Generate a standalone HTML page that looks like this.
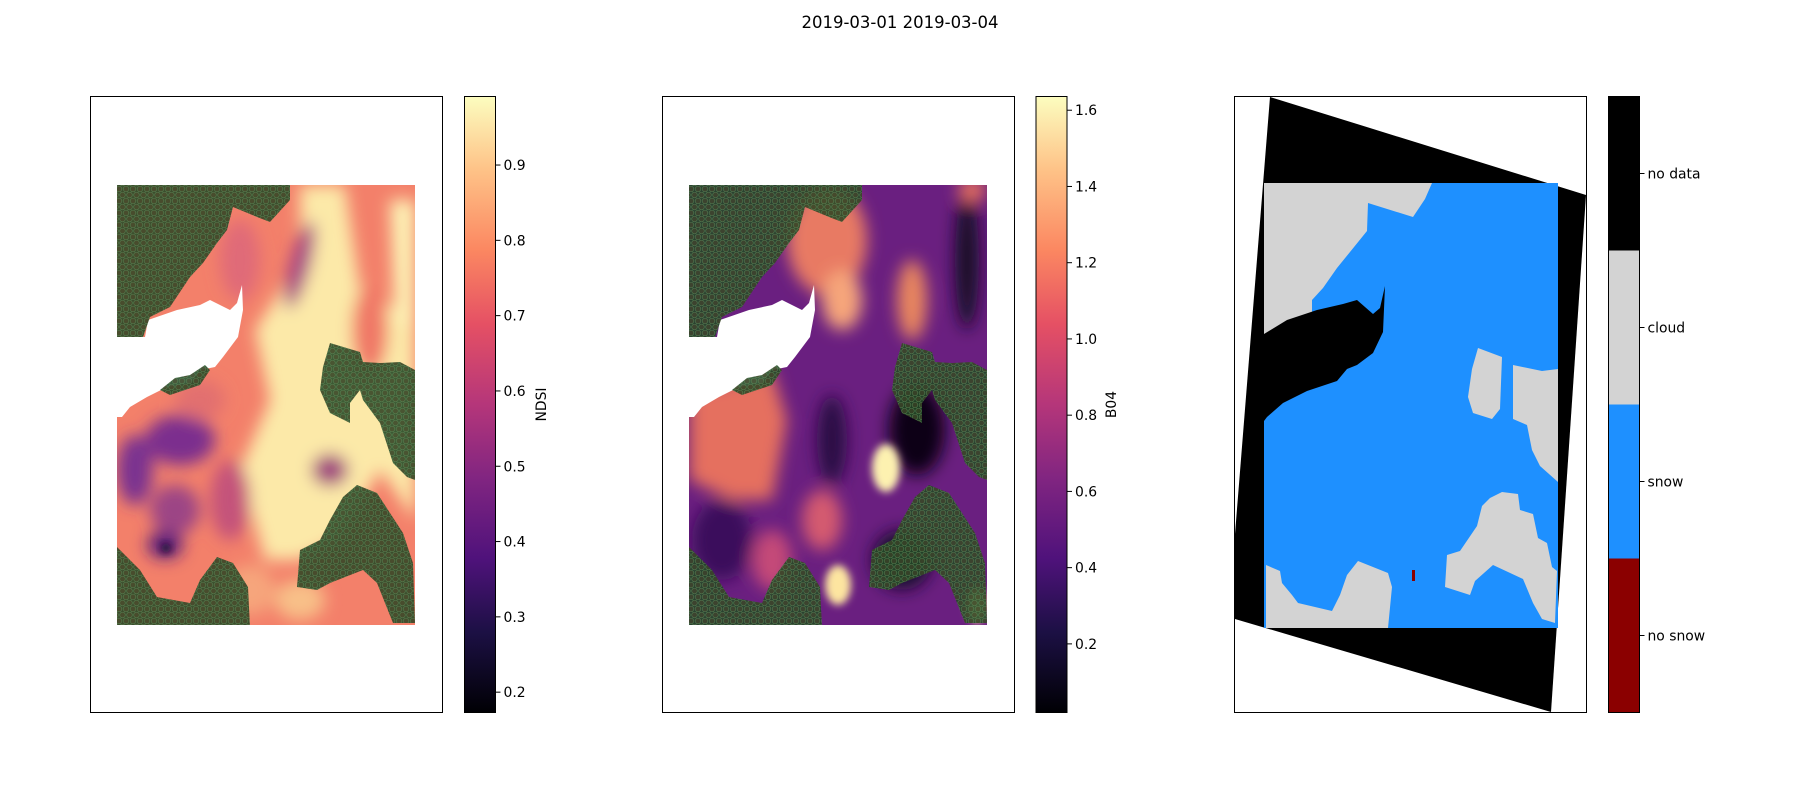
<!DOCTYPE html>
<html><head><meta charset="utf-8"><style>
html,body{margin:0;padding:0;background:#fff;width:1800px;height:800px;overflow:hidden;font-family:"DejaVu Sans","Liberation Sans",sans-serif}
svg text{font-family:"DejaVu Sans","Liberation Sans",sans-serif}
</style></head><body>
<svg id="fig" width="1800" height="800" viewBox="0 0 1800 800" xmlns="http://www.w3.org/2000/svg">
<defs>
<linearGradient id="magma" x1="0" y1="1" x2="0" y2="0">
<stop offset="0" stop-color="#000004"/><stop offset="0.13" stop-color="#1c1044"/><stop offset="0.25" stop-color="#4f127b"/><stop offset="0.38" stop-color="#812581"/><stop offset="0.5" stop-color="#b5367a"/><stop offset="0.63" stop-color="#e55064"/><stop offset="0.75" stop-color="#fb8761"/><stop offset="0.88" stop-color="#fec287"/><stop offset="1" stop-color="#fcfdbf"/>
</linearGradient>
<filter id="blur8" x="-50%" y="-50%" width="200%" height="200%"><feGaussianBlur stdDeviation="8"/></filter>
<filter id="blur4" x="-50%" y="-50%" width="200%" height="200%"><feGaussianBlur stdDeviation="4"/></filter>
<pattern id="hex" patternUnits="userSpaceOnUse" width="7" height="12">
<rect width="7" height="12" fill="rgba(34,70,36,0.88)"/>
<circle cx="3.5" cy="3" r="2.8" fill="rgba(110,70,45,0.25)" stroke="rgba(95,150,95,0.6)" stroke-width="0.7"/>
<circle cx="0" cy="9" r="2.8" fill="rgba(110,70,45,0.25)" stroke="rgba(95,150,95,0.6)" stroke-width="0.7"/>
<circle cx="7" cy="9" r="2.8" fill="rgba(110,70,45,0.25)" stroke="rgba(95,150,95,0.6)" stroke-width="0.7"/>
</pattern>
<clipPath id="dataclip"><rect x="117" y="185" width="298" height="440"/></clipPath>
<g id="hole"><polygon fill="#fff" points="117,337 145,337 148,320 177,310 200,305 210,300 230,310 237,303 242,285 243,310 238,337 223,357 215,367 200,370 190,383 167,387 147,397 130,407 122,417 117,417 116,337"/></g>
<g id="greens" fill="url(#hex)">
<polygon points="117,178 290,178 290,200 270,222 257,217 233,207 227,230 217,243 203,263 190,277 170,307 150,317 143,337 117,337"/>
<polygon points="330,343 360,352 363,362 380,363 400,362 415,370 415,480 407,477 393,463 380,423 363,400 360,390 350,403 350,423 330,413 320,390 323,367"/>
<polygon points="357,485 377,493 390,513 403,533 413,563 415,623 393,623 377,583 363,570 330,583 317,590 297,587 300,550 320,540 330,520 343,497"/>
<polygon points="117,547 140,570 157,597 190,603 200,580 217,557 233,563 248,587 250,627 117,627"/>
<polygon points="160,390 175,378 190,375 205,365 210,370 200,385 185,390 170,395"/>
</g>
</defs>

<text x="900" y="28" font-size="16.5" text-anchor="middle" fill="#000">2019-03-01 2019-03-04</text>

<!-- Panel 1: NDSI -->
<g>
<rect x="90.5" y="96.5" width="352" height="616" fill="#fff" stroke="#000" stroke-width="1"/>
<g clip-path="url(#dataclip)">
<rect x="117" y="185" width="298" height="440" fill="#f3806a"/>
<g filter="url(#blur8)">
<polygon points="300,185 345,185 360,290 415,320 415,520 380,470 340,540 300,560 265,560 240,470 270,400 255,330 300,260" fill="#fce9a8"/>
<polygon points="390,200 415,200 415,330 395,320" fill="#fdf3b5"/>
<ellipse cx="370" cy="330" rx="18" ry="45" fill="#f07866"/>
<ellipse cx="300" cy="265" rx="10" ry="45" fill="#a54585" transform="rotate(15 300 265)"/>
<ellipse cx="240" cy="260" rx="20" ry="40" fill="#e06a78"/>
<ellipse cx="180" cy="440" rx="35" ry="25" fill="#7b2f8e"/>
<ellipse cx="135" cy="470" rx="18" ry="35" fill="#7a3090"/>
<ellipse cx="175" cy="510" rx="25" ry="25" fill="#9c4485"/>
<ellipse cx="165" cy="545" rx="18" ry="14" fill="#5a1d7a"/>
<ellipse cx="230" cy="500" rx="20" ry="40" fill="#c4527a"/>
<ellipse cx="250" cy="590" rx="25" ry="25" fill="#f6a57c"/>
<ellipse cx="330" cy="470" rx="18" ry="16" fill="#a0457f"/>
<ellipse cx="300" cy="600" rx="25" ry="20" fill="#f8c088"/>
<ellipse cx="200" cy="400" rx="25" ry="20" fill="#e27070"/>
</g>
<ellipse cx="166" cy="548" rx="5" ry="5" fill="#1a0830" filter="url(#blur4)"/>
<use href="#hole"/>
<use href="#greens"/>
</g>
</g>

<!-- Panel 2: B04 -->
<g>
<rect x="662.5" y="96.5" width="352" height="616" fill="#fff" stroke="#000" stroke-width="1"/>
<g transform="translate(572,0)">
<g clip-path="url(#dataclip)">
<rect x="117" y="185" width="298" height="440" fill="#6a1f80"/>
<g filter="url(#blur8)">
<polygon points="117,390 200,370 215,420 200,500 160,500 117,480" fill="#e5705e"/>
<ellipse cx="150" cy="540" rx="30" ry="40" fill="#3a0f5c"/>
<ellipse cx="200" cy="560" rx="20" ry="30" fill="#c44a78"/>
<ellipse cx="255" cy="240" rx="40" ry="55" fill="#e87a64"/>
<ellipse cx="270" cy="300" rx="20" ry="30" fill="#f6a57a"/>
<ellipse cx="345" cy="430" rx="28" ry="45" fill="#0c0418"/>
<ellipse cx="395" cy="260" rx="12" ry="70" fill="#150828"/>
<ellipse cx="340" cy="300" rx="15" ry="40" fill="#e9865f"/>
<ellipse cx="260" cy="440" rx="15" ry="45" fill="#2a0c45"/>
<ellipse cx="250" cy="520" rx="20" ry="30" fill="#d45a70"/>
<ellipse cx="330" cy="560" rx="30" ry="30" fill="#1e0a33"/>
<ellipse cx="400" cy="190" rx="14" ry="12" fill="#e5705e"/>
</g>
<ellipse cx="314" cy="468" rx="14" ry="24" fill="#fdf1b0" filter="url(#blur4)"/>
<ellipse cx="266" cy="585" rx="13" ry="20" fill="#fde5a0" filter="url(#blur4)"/>
<ellipse cx="405" cy="605" rx="10" ry="18" fill="#fde5a0" filter="url(#blur4)"/>
<use href="#hole"/>
<use href="#greens"/>
</g>
</g>
</g>

<!-- Panel 3: classification -->
<g>
<rect x="1234.5" y="96.5" width="352" height="616" fill="#fff" stroke="#000" stroke-width="1"/>
<polygon points="1270,97 1586,195 1551,712 1235,619 1235,534" fill="#000"/>
<rect x="1264" y="183" width="294" height="445" fill="#1e90ff"/>
<g fill="#d3d3d3">
<polygon points="1264,183 1432,183 1425,199 1413,217 1368,203 1367,231 1350,252 1337,268 1323,288 1312,300 1312,316 1290,320 1287,332 1278,338 1264,334"/>
<polygon points="1478,348 1502,357 1500,409 1492,419 1473,413 1468,397 1472,369"/>
<polygon points="1513,365 1542,371 1558,369 1558,482 1540,466 1532,450 1527,425 1513,419"/>
<polygon points="1482,506 1490,498 1502,492 1518,494 1520,510 1533,514 1538,538 1547,543 1552,567 1557,571 1555,623 1542,619 1533,603 1523,579 1493,565 1475,581 1470,595 1445,587 1447,555 1460,551 1477,526"/>
<polygon points="1266,565 1280,571 1282,583 1292,595 1298,603 1332,611 1340,595 1347,575 1358,561 1388,573 1392,587 1388,628 1266,628"/>
</g>
<polygon points="1264,334 1287,320 1317,310 1343,304 1357,300 1373,314 1380,308 1385,286 1383,332 1373,353 1357,365 1347,369 1337,381 1307,391 1283,403 1267,417 1264,421" fill="#000"/>
<rect x="1412" y="570" width="3" height="11" fill="#8b0000"/>
</g>

<g id="cbars"></g>
</svg>
<script>
// Colorbar 1 (NDSI)
const ndsiTicks = [0.2, 0.3, 0.4, 0.5, 0.6, 0.7, 0.8, 0.9];
const ndsiRange = [0.173, 0.991];
// Colorbar 2 (B04)
const b04Ticks = [0.2, 0.4, 0.6, 0.8, 1.0, 1.2, 1.4, 1.6];
const b04Range = [0.02, 1.636];
// Colorbar 3 (classes, bottom to top)
const classLabels = ["no snow", "snow", "cloud", "no data"];
const classColors = ["#8b0000", "#1e90ff", "#d3d3d3", "#000000"];

const NS = "http://www.w3.org/2000/svg";
const root = document.getElementById("cbars");
const TOP = 96.5, BOT = 712.5;
function mk(tag, attrs, parent) {
  const e = document.createElementNS(NS, tag);
  for (const k in attrs) e.setAttribute(k, attrs[k]);
  parent.appendChild(e);
  return e;
}
function yScale(v, r) { return BOT - (v - r[0]) / (r[1] - r[0]) * (BOT - TOP); }

function contCbar(x, ticks, range, label, labelX, fmt, name) {
  const g = mk("g", {}, root);
  
  
  const r = mk("rect", {x: x, y: TOP, width: 31, height: BOT - TOP, fill: "url(#magma)", stroke: "#000", "stroke-width": 1}, g);
  
  
  ticks.forEach(t => {
    const y = yScale(t, range);
    const l = mk("line", {x1: x + 31, x2: x + 36, y1: y, y2: y, stroke: "#000", "stroke-width": 1}, g);
    
    
    const tx = mk("text", {x: x + 39, y: y + 5, "font-size": 13.9, fill: "#000"}, g);
    tx.textContent = fmt(t);
    
    
  });
  const cy = (TOP + BOT) / 2;
  const lt = mk("text", {x: labelX, y: cy, "font-size": 13.9, "text-anchor": "middle", transform: "rotate(-90 " + labelX + " " + cy + ")", fill: "#000"}, g);
  lt.textContent = label;
  
  
}
contCbar(464.5, ndsiTicks, ndsiRange, "NDSI", 546, t => t.toFixed(1), "ndsi-colorbar");
contCbar(1036, b04Ticks, b04Range, "B04", 1116, t => t.toFixed(1), "b04-colorbar");

(function () {
  const x = 1608.5;
  const g = mk("g", {}, root);
  
  
  const n = classLabels.length;
  const h = (BOT - TOP) / n;
  classLabels.forEach((lab, i) => {
    const y0 = BOT - (i + 1) * h;
    const r = mk("rect", {x: x, y: y0, width: 31, height: h, fill: classColors[i]}, g);
    
    
    const yc = y0 + h / 2;
    const l = mk("line", {x1: x + 31, x2: x + 36, y1: yc, y2: yc, stroke: "#000", "stroke-width": 1}, g);
    
    
    const tx = mk("text", {x: x + 39, y: yc + 5, "font-size": 13.9, fill: "#000"}, g);
    tx.textContent = lab;
    
    
  });
  const b = mk("rect", {x: x, y: TOP, width: 31, height: BOT - TOP, fill: "none", stroke: "#000", "stroke-width": 1}, g);
  
  
})();
</script>
</body></html>
